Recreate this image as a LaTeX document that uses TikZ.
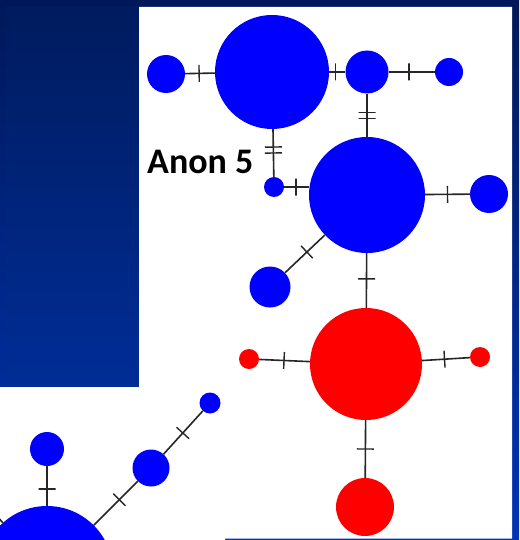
\documentclass[tikz,border=0pt]{standalone}
\usepackage{fontspec}
\setmainfont{Carlito}
\definecolor{slidetop}{RGB}{0,24,88}
\definecolor{slidebot}{RGB}{0,52,180}
\definecolor{boxtop}{RGB}{0,27,94}
\definecolor{boxbot}{RGB}{0,45,150}
\definecolor{hapblue}{RGB}{0,0,255}
\definecolor{hapred}{RGB}{255,0,0}
\tikzset{
  hap/.style={circle, inner sep=0pt, minimum size=#1},
  blu/.style={hap=#1, fill=hapblue},
  rd/.style={hap=#1, fill=hapred},
  link/.style={draw=black!85, line width=1.6pt},
  mut/.style={sloped, draw=black!85, line width=1.4pt, inner sep=0pt, minimum height=17pt, minimum width=0pt}
}
\begin{document}
\begin{tikzpicture}[x=1pt, y=-1pt]
            \useasboundingbox (0,0) rectangle (519,540);
            % slide background and the pasted white network picture
            \fill[top color=slidetop, bottom color=slidebot] (0,0) rectangle (519,540);
            \fill[top color=boxtop, bottom color=boxbot] (6,7) rectangle (139,387);
            \fill[white] (139,7) -- (512,7) -- (512,538.5) -- (225,538.5) -- (225,540) -- (0,540) -- (0,387) -- (139,387) -- cycle;
            % haplotypes
            \node[blu=114pt] (A) at (272,72) {};
            \node[blu=38pt] (L1) at (166,74) {};
            \node[blu=43pt] (T2) at (367,72) {};
            \node[blu=28pt] (T3) at (449,72) {};
            \node[blu=20pt] (anon) at (274,187) {};
            \node[blu=116pt] (B) at (367,195) {};
            \node[blu=38pt] (R1) at (489,194) {};
            \node[blu=41pt] (LL) at (270,287) {};
            \node[rd=112pt] (C) at (366,364) {};
            \node[rd=20pt] (Cl) at (249,359) {};
            \node[rd=20pt] (Cr) at (480,357) {};
            \node[rd=58pt] (Cb) at (365,507) {};
            \node[blu=21pt] (s1) at (210,403) {};
            \node[blu=37pt] (s2) at (151,468) {};
            \node[blu=34pt] (s3) at (47,449) {};
            \node[blu=132pt] (D) at (47,572) {};
            \coordinate (offD) at (-40,475);
            \node[font=\bfseries\fontsize{36}{40}\selectfont, anchor=base west, inner sep=0pt] (anonlbl) at (147,173) {Anon 5};
            % links with mutation marks
            \draw[link] (L1) -- node[mut, pos=.47]{} (A);
            \draw[link] (A) -- node[mut, pos=.4]{} (T2);
            \draw[link] (T2) -- node[mut, pos=.44]{} (T3);
            \draw[link] (T2) -- node[mut, pos=.43]{} node[mut, pos=.57]{} (B);
            \draw[link] (A) -- node[mut, pos=.375]{} node[mut, pos=.5]{} (anon);
            \draw[link] (anon) -- node[mut, pos=.48]{} (anon -| B.west);
            \draw[link] (B) -- node[mut, pos=.5]{} (R1);
            \draw[link] (B) -- node[mut, pos=.45]{} (LL);
            \draw[link] (B) -- node[mut, pos=.47]{} (C);
            \draw[link] (Cl) -- node[mut, pos=.49]{} (C);
            \draw[link] (C) -- node[mut, pos=.47]{} (Cr);
            \draw[link] (C) -- node[mut, pos=.5]{} (Cb);
            \draw[link] (s1) -- node[mut, pos=.51]{} (s2);
            \draw[link] (s2) -- node[mut, pos=.42]{} (D);
            \draw[link] (s3) -- node[mut, pos=.575]{} (D);
            \draw[link] (D) -- (offD);
        \end{tikzpicture}
\end{document}
